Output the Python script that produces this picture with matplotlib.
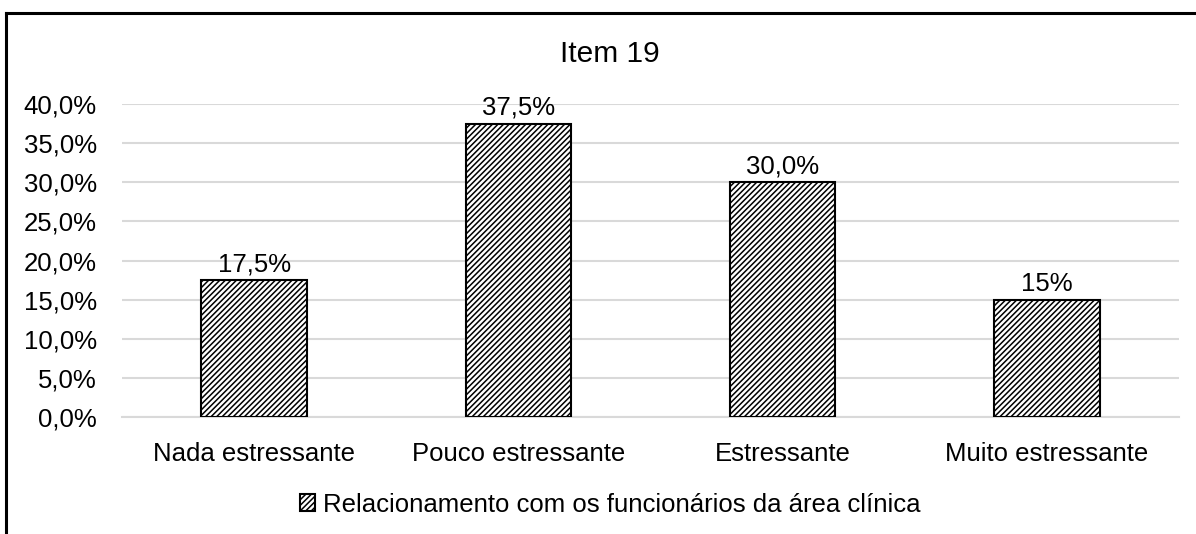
import matplotlib.pyplot as plt
import matplotlib.lines as mlines
from matplotlib.ticker import FuncFormatter

plt.rcParams['font.family'] = ['Liberation Sans', 'DejaVu Sans']
plt.rcParams['hatch.linewidth'] = 1.1

# Data
categories = ['Nada estressante', 'Pouco estressante', 'Estressante', 'Muito estressante']
values = [17.5, 37.5, 30.0, 15.0]
value_labels = ['17,5%', '37,5%', '30,0%', '15%']
series_name = 'Relacionamento com os funcionários da área clínica'
title = 'Item 19'

fig = plt.figure(figsize=(11.96, 5.34), dpi=100)
ax = fig.add_axes([0.102, 0.219, 0.8838, 0.586])

bars = ax.bar(range(len(categories)), values, width=0.4, color='white',
              edgecolor='black', linewidth=1.5, hatch='//////', label=series_name, zorder=3)

for b, lab in zip(bars, value_labels):
    ax.text(b.get_x() + b.get_width() / 2, b.get_height() + 0.5, lab,
            ha='center', va='bottom', fontsize=18.5)

ax.set_ylim(0, 40)
ax.set_xlim(-0.5, len(categories) - 0.5)
ax.set_yticks(range(0, 41, 5))
ax.yaxis.set_major_formatter(FuncFormatter(lambda v, p: f'{v:.1f}%'.replace('.', ',')))
ax.set_xticks(range(len(categories)))
ax.set_xticklabels(categories)
ax.tick_params(axis='both', length=0, labelsize=18.5)
ax.tick_params(axis='x', pad=18)
ax.tick_params(axis='y', pad=18)
ax.grid(axis='y', color='#d9d9d9', linewidth=1.5, zorder=0)
for s in ['top', 'right', 'left']:
    ax.spines[s].set_visible(False)
ax.spines['bottom'].set_color('#d9d9d9')
ax.spines['bottom'].set_linewidth(1.5)

fig.text(0.51, 0.898, title, ha='center', va='center', fontsize=21.5)

fig.legend(handles=[bars], loc='center', bbox_to_anchor=(0.51, 0.055), frameon=False,
           fontsize=18.5, handlelength=0.6, handleheight=0.6, handletextpad=0.3)

# outer chart border (top and left only visible)
fig.add_artist(mlines.Line2D([6 / 1196, 1.0], [1 - 13 / 534, 1 - 13 / 534], color='black', linewidth=2.2))
fig.add_artist(mlines.Line2D([6 / 1196, 6 / 1196], [0.0, 1 - 13 / 534], color='black', linewidth=2.2))

fig.savefig('out.png', dpi=100)
